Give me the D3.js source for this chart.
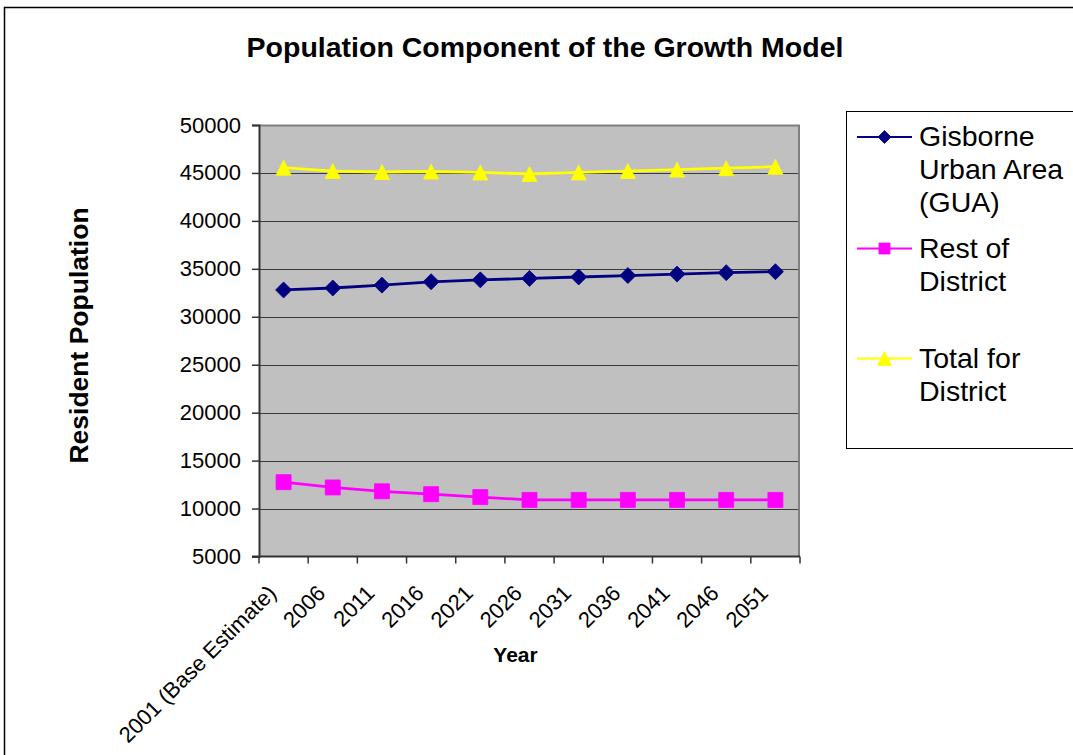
<!DOCTYPE html>
<html>
<head>
<meta charset="utf-8">
<script src="https://cdn.jsdelivr.net/npm/d3@7"></script>
<style>
  html, body { margin: 0; padding: 0; background: #fff; }
  svg { display: block; font-family: "Liberation Sans", Arial, sans-serif; }
</style>
</head>
<body>
<svg id="chart" width="1073" height="755"></svg>
<script>
// Projection years (x categories)
const categories = ["2001 (Base Estimate)", "2006", "2011", "2016", "2021", "2026",
                    "2031", "2036", "2041", "2046", "2051"];

// Resident population by area
const guaValues   = [32800, 33000, 33300, 33650, 33850, 34000, 34150, 34300, 34450, 34600, 34700];
const restValues  = [12750, 12200, 11800, 11500, 11200, 10900, 10900, 10900, 10900, 10900, 10900];
const totalValues = [45550, 45200, 45100, 45150, 45050, 44900, 45050, 45200, 45350, 45500, 45650];

// Y-axis tick values
const yTicks = [5000, 10000, 15000, 20000, 25000, 30000, 35000, 40000, 45000, 50000];

const seriesNames = ["Gisborne Urban Area (GUA)", "Rest of District", "Total for District"];
const legendLines = [["Gisborne", "Urban Area", "(GUA)"], ["Rest of", "District"], ["Total for", "District"]];

// Marker shapes (symbol types; sizes are side lengths in px)
const diamond = {
  draw(ctx, size) { const r = size / 2; ctx.moveTo(0, -r); ctx.lineTo(r, 0); ctx.lineTo(0, r); ctx.lineTo(-r, 0); ctx.closePath(); }
};
const square = {
  draw(ctx, size) { const r = size / 2; ctx.rect(-r, -r, size, size); }
};
const triangle = {
  draw(ctx, size) { const r = size / 2; ctx.moveTo(0, -r); ctx.lineTo(r, r); ctx.lineTo(-r, r); ctx.closePath(); }
};

const series = [
  { name: seriesNames[0], values: guaValues,   color: "#000080", shape: diamond,  size: 16, legendSize: 13 },
  { name: seriesNames[1], values: restValues,  color: "#FF00FF", shape: square,   size: 15, legendSize: 11 },
  { name: seriesNames[2], values: totalValues, color: "#FFFF00", shape: triangle, size: 15, legendSize: 14 }
];

const svg = d3.select("#chart");

// Outer chart frame
svg.append("rect")
  .attr("x", 4.5).attr("y", 7.5)
  .attr("width", 1100).attr("height", 800)
  .attr("fill", "#fff").attr("stroke", "#000").attr("stroke-width", 1.5);

const plot = { left: 259, right: 800, top: 125, bottom: 556.5 };

const x = d3.scaleBand().domain(categories).range([plot.left, plot.right]).padding(0);
const y = d3.scaleLinear().domain([5000, 50000]).range([plot.bottom, plot.top]);
const cx = c => x(c) + x.bandwidth() / 2;

// Plot background
svg.append("rect")
  .attr("x", plot.left).attr("y", plot.top)
  .attr("width", plot.right - plot.left).attr("height", plot.bottom - plot.top)
  .attr("fill", "#C0C0C0");

// Horizontal gridlines
svg.append("g")
  .selectAll("line")
  .data(yTicks.filter(v => v > 5000 && v < 50000))
  .join("line")
  .attr("x1", plot.left).attr("x2", plot.right)
  .attr("y1", d => Math.round(y(d)) + 0.5).attr("y2", d => Math.round(y(d)) + 0.5)
  .attr("stroke", "#3a3a3a").attr("stroke-width", 1);

// Plot frame (top and right edges)
svg.append("path")
  .attr("d", `M${plot.left},${plot.top + 0.5} H${plot.right - 1} V${plot.bottom}`)
  .attr("fill", "none").attr("stroke", "#808080").attr("stroke-width", 2);

// Y axis
const yAxis = d3.axisLeft(y)
  .tickValues(yTicks)
  .tickFormat(d3.format("d"))
  .tickSize(7)
  .tickPadding(11);

const yAxisG = svg.append("g")
  .attr("transform", `translate(${plot.left},0)`)
  .call(yAxis);
yAxisG.select(".domain").attr("stroke", "#333").attr("stroke-width", 2);
yAxisG.selectAll(".tick line").attr("stroke", "#333").attr("stroke-width", 1.5);
yAxisG.selectAll(".tick text")
  .attr("font-size", 22).attr("fill", "#000")
  .attr("font-family", "'Liberation Sans', Arial, sans-serif");

// X axis line and category boundary ticks
const xBounds = categories.map(c => x(c)).concat([plot.right]);
svg.append("line")
  .attr("x1", plot.left - 7).attr("x2", plot.right)
  .attr("y1", plot.bottom).attr("y2", plot.bottom)
  .attr("stroke", "#333").attr("stroke-width", 2);
svg.append("g")
  .selectAll("line")
  .data(xBounds)
  .join("line")
  .attr("x1", d => d).attr("x2", d => d)
  .attr("y1", plot.bottom).attr("y2", plot.bottom + 7)
  .attr("stroke", "#333").attr("stroke-width", 1.5);

// Rotated category labels
svg.append("g")
  .selectAll("text")
  .data(categories)
  .join("text")
  .attr("transform", d => `translate(${cx(d) - 6},${plot.bottom + 38}) rotate(-45)`)
  .attr("text-anchor", "end")
  .attr("font-size", 22)
  .attr("fill", "#000")
  .text(d => d);

// Series lines and markers
const line = d3.line()
  .x((d, i) => cx(categories[i]))
  .y(d => y(d));

series.forEach(s => {
  svg.append("path")
    .datum(s.values)
    .attr("d", line)
    .attr("fill", "none")
    .attr("stroke", s.color)
    .attr("stroke-width", 2.8);
});

series.forEach(s => {
  const sym = d3.symbol().type(s.shape).size(s.size);
  svg.append("g")
    .selectAll("path")
    .data(s.values)
    .join("path")
    .attr("transform", (d, i) => `translate(${cx(categories[i])},${y(d)})`)
    .attr("d", sym)
    .attr("fill", s.color)
    .attr("stroke", s.color)
    .attr("stroke-width", 0.8);
});

// Chart title
svg.append("text")
  .attr("x", 545).attr("y", 56.5)
  .attr("text-anchor", "middle")
  .attr("font-size", 28.5)
  .attr("font-weight", "bold")
  .attr("fill", "#000")
  .text("Population Component of the Growth Model");

// Axis titles
svg.append("text")
  .attr("transform", `translate(87.5,335.5) rotate(-90)`)
  .attr("text-anchor", "middle")
  .attr("font-size", 26.5)
  .attr("font-weight", "bold")
  .attr("fill", "#000")
  .text("Resident Population");

svg.append("text")
  .attr("x", 515.5).attr("y", 661.5)
  .attr("text-anchor", "middle")
  .attr("font-size", 21)
  .attr("font-weight", "bold")
  .attr("fill", "#000")
  .text("Year");

// Legend
const legend = svg.append("g");
legend.append("rect")
  .attr("x", 846.5).attr("y", 111.5)
  .attr("width", 260).attr("height", 337)
  .attr("fill", "#fff").attr("stroke", "#000").attr("stroke-width", 1);

const legendY = [137, 248.5, 358.5];
series.forEach((s, i) => {
  const g = legend.append("g").attr("transform", `translate(0,${legendY[i]})`);
  g.append("line")
    .attr("x1", 857).attr("x2", 912).attr("y1", 0).attr("y2", 0)
    .attr("stroke", s.color).attr("stroke-width", 2.2);
  g.append("path")
    .attr("transform", "translate(884.5,0)")
    .attr("d", d3.symbol().type(s.shape).size(s.legendSize))
    .attr("fill", s.color).attr("stroke", s.color).attr("stroke-width", 0.8);
  const t = g.append("text")
    .attr("x", 919).attr("y", 9)
    .attr("font-size", 28.5)
    .attr("fill", "#000");
  t.selectAll("tspan")
    .data(legendLines[i])
    .join("tspan")
    .attr("x", 919)
    .attr("dy", (d, j) => j === 0 ? 0 : 33)
    .text(d => d);
});
</script>
</body>
</html>
